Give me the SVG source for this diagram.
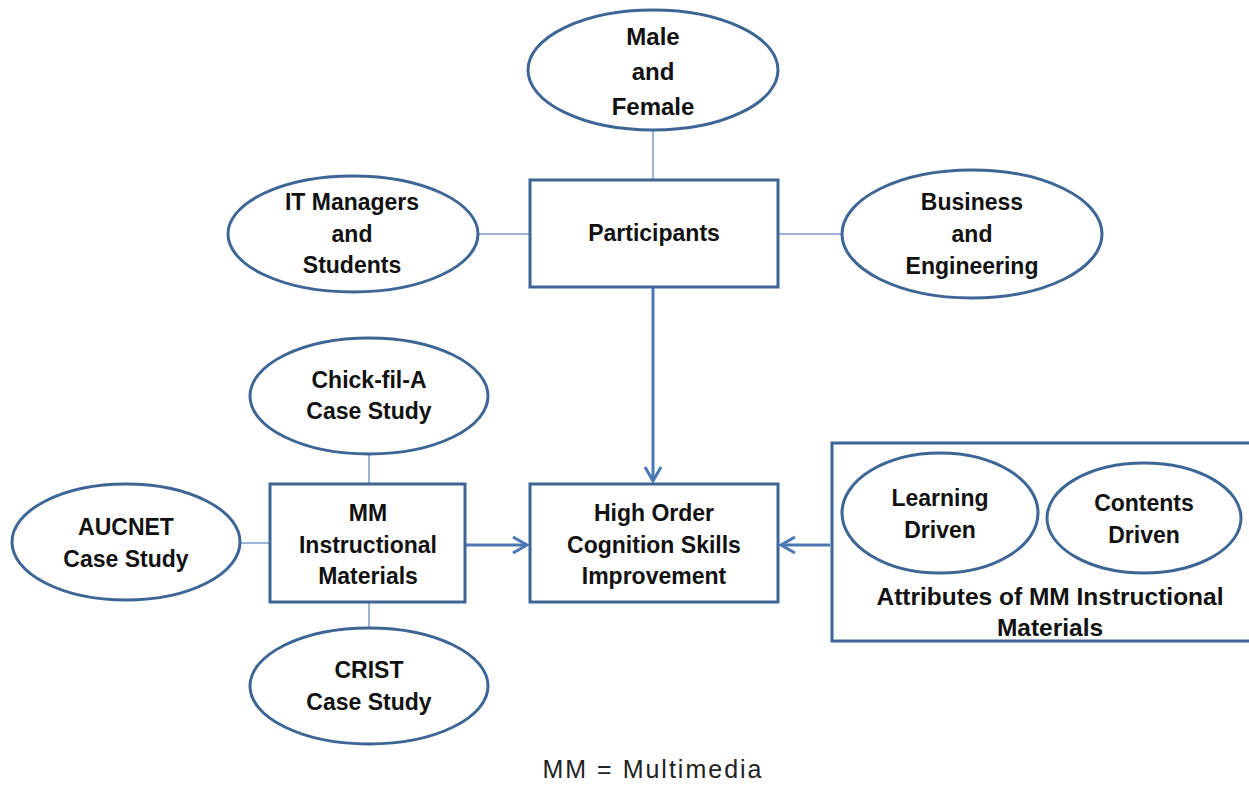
<svg xmlns="http://www.w3.org/2000/svg" width="1249" height="785" viewBox="0 0 1249 785">
  <style>
    .shape { fill: #ffffff; stroke: #3d6596; stroke-width: 3; }
    .link { stroke: #7a9cc9; stroke-width: 1.5; fill: none; }
    .arrow { stroke: #4a78b4; stroke-width: 3; fill: none; }
    .lbl { font-family: "Liberation Sans", Arial, sans-serif; font-weight: bold; font-size: 23px; fill: #111111; text-anchor: middle; dominant-baseline: central; }
    .big { font-size: 24px; }
    .wide { font-size: 24.5px; }
    .note { font-family: "Liberation Sans", Arial, sans-serif; font-size: 25px; letter-spacing: 2px; fill: #222222; text-anchor: middle; dominant-baseline: central; }
  </style>
  <rect width="1249" height="785" fill="#ffffff"/>

  <g id="connectors">
    <line class="link" x1="653" y1="130" x2="653" y2="180"/>
    <line class="link" x1="478" y1="234" x2="530" y2="234"/>
    <line class="link" x1="778" y1="234" x2="842" y2="234"/>
    <line class="link" x1="369" y1="455" x2="369" y2="484"/>
    <line class="link" x1="240" y1="543" x2="270" y2="543"/>
    <line class="link" x1="369" y1="602" x2="369" y2="628"/>
    <!-- participants down to outcome -->
    <line class="arrow" x1="653" y1="288" x2="653" y2="481"/>
    <path class="arrow" d="M645,467 L653,481 L661,467"/>
    <!-- materials to outcome -->
    <line class="arrow" x1="466" y1="545" x2="527" y2="545"/>
    <path class="arrow" d="M513,537 L527,545 L513,553"/>
    <!-- attributes to outcome -->
    <line class="arrow" x1="830" y1="545" x2="781" y2="545"/>
    <path class="arrow" d="M795,537 L781,545 L795,553"/>
  </g>

  <g id="male-female">
    <ellipse class="shape" cx="653" cy="70" rx="125" ry="60"/>
    <text class="lbl big" x="653" y="36">Male</text>
    <text class="lbl big" x="653" y="71">and</text>
    <text class="lbl big" x="653" y="106">Female</text>
  </g>

  <g id="participants">
    <rect class="shape" x="530" y="180" width="248" height="107"/>
    <text class="lbl" x="654" y="233">Participants</text>
  </g>

  <g id="it-managers">
    <ellipse class="shape" cx="353" cy="234" rx="125" ry="58"/>
    <text class="lbl" x="352" y="202">IT Managers</text>
    <text class="lbl" x="352" y="234">and</text>
    <text class="lbl" x="352" y="265">Students</text>
  </g>

  <g id="business-engineering">
    <ellipse class="shape" cx="972" cy="234" rx="130" ry="64"/>
    <text class="lbl" x="972" y="202">Business</text>
    <text class="lbl" x="972" y="234">and</text>
    <text class="lbl" x="972" y="266">Engineering</text>
  </g>

  <g id="chick-fil-a">
    <ellipse class="shape" cx="369" cy="396" rx="119" ry="58"/>
    <text class="lbl" x="369" y="380">Chick-fil-A</text>
    <text class="lbl" x="369" y="411">Case Study</text>
  </g>

  <g id="aucnet">
    <ellipse class="shape" cx="126" cy="542" rx="114" ry="58"/>
    <text class="lbl" x="126" y="527">AUCNET</text>
    <text class="lbl" x="126" y="559">Case Study</text>
  </g>

  <g id="mm-materials">
    <rect class="shape" x="270" y="484" width="195" height="118"/>
    <text class="lbl" x="368" y="513">MM</text>
    <text class="lbl" x="368" y="545">Instructional</text>
    <text class="lbl" x="368" y="576">Materials</text>
  </g>

  <g id="crist">
    <ellipse class="shape" cx="369" cy="686" rx="119" ry="58"/>
    <text class="lbl" x="369" y="670">CRIST</text>
    <text class="lbl" x="369" y="702">Case Study</text>
  </g>

  <g id="high-order">
    <rect class="shape" x="530" y="484" width="248" height="118"/>
    <text class="lbl" x="654" y="513">High Order</text>
    <text class="lbl" x="654" y="545">Cognition Skills</text>
    <text class="lbl" x="654" y="576">Improvement</text>
  </g>

  <g id="attributes">
    <rect class="shape" x="832" y="443" width="420" height="198"/>
    <text class="lbl wide" x="1050" y="596">Attributes of MM Instructional</text>
    <text class="lbl wide" x="1050" y="627">Materials</text>
  </g>

  <g id="learning-driven">
    <ellipse class="shape" cx="940" cy="513" rx="98" ry="60"/>
    <text class="lbl" x="940" y="498">Learning</text>
    <text class="lbl" x="940" y="530">Driven</text>
  </g>

  <g id="contents-driven">
    <ellipse class="shape" cx="1144" cy="518" rx="97" ry="55"/>
    <text class="lbl" x="1144" y="503">Contents</text>
    <text class="lbl" x="1144" y="535">Driven</text>
  </g>

  <g id="legend">
    <text class="note" x="653" y="769">MM = Multimedia</text>
  </g>
</svg>
